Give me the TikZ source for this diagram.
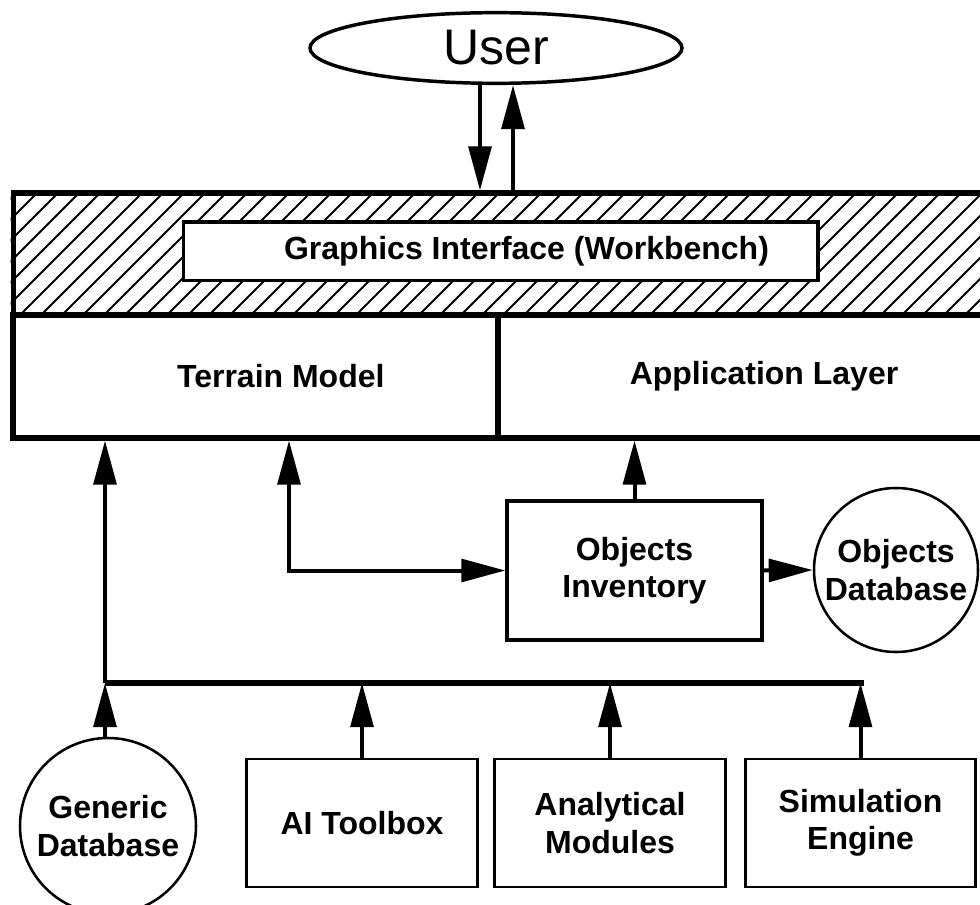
\documentclass[tikz,border=0pt]{standalone}
\usepackage{fontspec}
\setmainfont{Liberation Sans}
\usetikzlibrary{arrows.meta,shapes.geometric}

\begin{document}
\begin{tikzpicture}[x=0.75pt, y=-0.75pt,
        every node/.style={inner sep=0pt, align=center, font=\bfseries\fontsize{24}{28}\selectfont},
        frame/.style={draw, line width=3.8pt},
        panel/.style={draw, line width=2.5pt, fill=white},
        tool/.style={draw, line width=2.2pt, minimum width=173pt, minimum height=96pt},
        store/.style={draw, circle, line width=1.9pt, fill=white},
        hatch/.style={line width=1.4pt},
        bus/.style={line width=4pt},
        link/.style={line width=3pt, -{Triangle[length=33pt, width=17pt]}},
        twoway/.style={line width=3pt, {Triangle[length=33pt, width=17pt]}-{Triangle[length=33pt, width=17pt]}}]

        % Page size
        \useasboundingbox (0,0) rectangle (980,905);

        % User at the top
        \node[draw, ellipse, line width=2.6pt, minimum width=279pt, minimum height=53pt,
              font=\fontsize{37.5}{42}\selectfont] (user) at (496,48) {User};

        % Hatched band holding the workbench
        \node[frame, minimum width=740pt, minimum height=91.5pt] (band) at (506.5,254) {};
        \begin{scope}
            \clip (band.south west) rectangle (band.north east);
            \foreach \x in {-6,...,48}
                \draw[hatch] (\x*21+20,315) -- ++(122,-122);
        \end{scope}
        \node[panel, minimum width=476pt, minimum height=44pt] (graphics) at (500.5,251.5)
            {\hspace*{39pt}Graphics Interface (Workbench)};

        % Terrain model and application layer
        \node[frame, minimum width=363.75pt, minimum height=92.25pt] (terrain) at (255.5,376.5)
            {\hspace*{38pt}Terrain Model};
        \node[frame, minimum width=376.5pt, minimum height=92.25pt] (application) at (749,376.5)
            {\hspace*{22.5pt}Application Layer};

        % Objects inventory and its database
        \node[panel, minimum width=191.25pt, minimum height=104.25pt] (inventory) at (634.5,570.5) {Objects\\Inventory};
        \node[store, minimum size=123pt] (objdb) at (896,570) {Objects\\Database};

        % Bottom row
        \node[store, minimum size=132pt] (genericdb) at (108,826) {Generic\\Database};
        \node[tool] (ai) at (362,823) {AI Toolbox};
        \node[tool] (analytical) at (610,823) {Analytical\\Modules};
        \node[tool] (simulation) at (860.5,823) {Simulation\\Engine};

        % Points for the connectors
        \coordinate (down) at (480,0);
        \coordinate (up) at (513,0);
        \coordinate (elbow) at (289,568);
        \coordinate (busL) at (105,683);
        \coordinate (busR) at (864,683);

        % User exchange
        \draw[link] (user.south -| down) -- (band.north -| down);
        \draw[link] (band.north -| up) -- (user.south -| up);

        % Into the terrain model and application layer
        \draw[link] (busL) -- (terrain.south -| busL);
        \draw[twoway] (terrain.south -| elbow) |- (inventory.west);
        \draw[link] (inventory.north) -- (application.south -| inventory.north);
        \draw[link] (inventory.east) -- (objdb.west);

        % Bus from the bottom row
        \draw[bus] (busL) -- (busR);
        \draw[link] (genericdb.north -| busL) -- (busL);
        \draw[link] (ai.north) -- (ai.north |- busL);
        \draw[link] (analytical.north) -- (analytical.north |- busL);
        \draw[link] (simulation.north) -- (simulation.north |- busL);

    \end{tikzpicture}
\end{document}
